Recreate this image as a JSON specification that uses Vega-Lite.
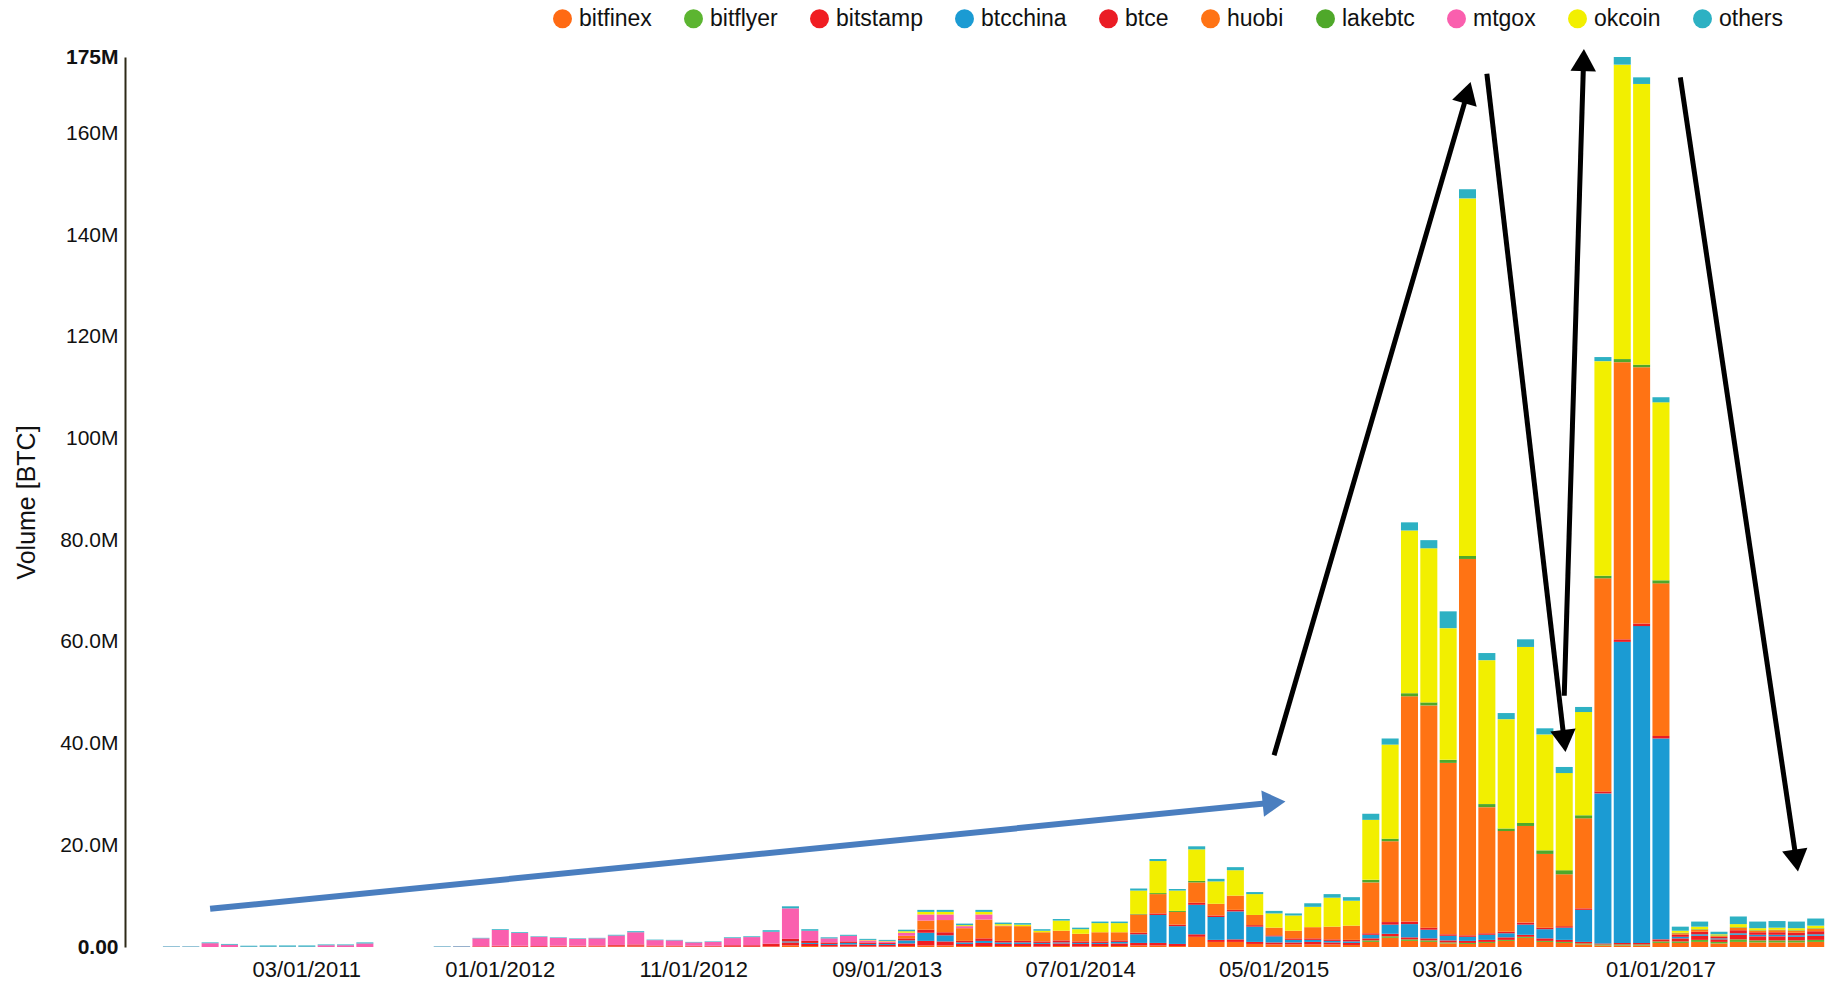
{
  "$schema": "https://vega.github.io/schema/vega-lite/v6.json",
  "width": 1700,
  "height": 890,
  "autosize": {"type": "none"},
  "padding": {"left": 125, "top": 57, "right": 12, "bottom": 42},
  "background": "white",
  "config": {"view": {"stroke": null}, "font": "Liberation Sans"},
  "datasets": {
    "volume": [
      {"month": "2010-08", "mtgox": 0.05, "others": 0.1},
      {"month": "2010-09", "mtgox": 0.05, "others": 0.1},
      {"month": "2010-10", "mtgox": 0.75, "others": 0.15},
      {"month": "2010-11", "mtgox": 0.45, "others": 0.15},
      {"month": "2010-12", "mtgox": 0.05, "others": 0.2},
      {"month": "2011-01", "mtgox": 0.05, "others": 0.25},
      {"month": "2011-02", "mtgox": 0.05, "others": 0.25},
      {"month": "2011-03", "mtgox": 0.05, "others": 0.25},
      {"month": "2011-04", "mtgox": 0.35, "others": 0.15},
      {"month": "2011-05", "mtgox": 0.35, "others": 0.15},
      {"month": "2011-06", "mtgox": 0.7, "others": 0.2},
      {"month": "2011-07", "others": 0},
      {"month": "2011-08", "others": 0},
      {"month": "2011-09", "others": 0},
      {"month": "2011-10", "mtgox": 0.05, "others": 0.1},
      {"month": "2011-11", "mtgox": 0.1, "others": 0.1},
      {"month": "2011-12", "bitstamp": 0.05, "btce": 0.1, "mtgox": 1.55, "others": 0.1},
      {"month": "2012-01", "bitstamp": 0.1, "btce": 0.15, "mtgox": 3.1, "others": 0.15},
      {"month": "2012-02", "bitstamp": 0.1, "btce": 0.15, "mtgox": 2.5, "others": 0.15},
      {"month": "2012-03", "bitstamp": 0.1, "btce": 0.1, "mtgox": 1.8, "others": 0.1},
      {"month": "2012-04", "bitfinex": 0.05, "bitstamp": 0.1, "btce": 0.1, "mtgox": 1.55, "others": 0.1},
      {"month": "2012-05", "bitfinex": 0.05, "bitstamp": 0.1, "btce": 0.1, "mtgox": 1.35, "others": 0.1},
      {"month": "2012-06", "bitfinex": 0.1, "bitstamp": 0.1, "btce": 0.1, "mtgox": 1.4, "others": 0.1},
      {"month": "2012-07", "bitfinex": 0.1, "bitstamp": 0.15, "btce": 0.15, "mtgox": 1.85, "others": 0.15},
      {"month": "2012-08", "bitfinex": 0.1, "bitstamp": 0.2, "btce": 0.2, "mtgox": 2.4, "others": 0.2},
      {"month": "2012-09", "bitfinex": 0.1, "bitstamp": 0.1, "btce": 0.1, "mtgox": 1.05, "others": 0.1},
      {"month": "2012-10", "bitfinex": 0.1, "bitstamp": 0.1, "btce": 0.1, "mtgox": 1.0, "others": 0.1},
      {"month": "2012-11", "bitfinex": 0.05, "bitstamp": 0.1, "btce": 0.1, "mtgox": 0.65, "others": 0.1},
      {"month": "2012-12", "bitfinex": 0.05, "bitstamp": 0.1, "btce": 0.1, "mtgox": 0.75, "others": 0.1},
      {"month": "2013-01", "bitfinex": 0.05, "bitstamp": 0.15, "btce": 0.15, "mtgox": 1.4, "others": 0.15},
      {"month": "2013-02", "bitfinex": 0.05, "bitstamp": 0.15, "btce": 0.15, "mtgox": 1.6, "others": 0.15},
      {"month": "2013-03", "bitfinex": 0.1, "bitstamp": 0.3, "btce": 0.25, "mtgox": 2.35, "others": 0.3},
      {"month": "2013-04", "bitfinex": 0.3, "bitstamp": 0.6, "btcchina": 0.2, "btce": 0.5, "mtgox": 6.0, "others": 0.4},
      {"month": "2013-05", "bitfinex": 0.2, "bitstamp": 0.4, "btcchina": 0.2, "btce": 0.4, "mtgox": 2.0, "others": 0.3},
      {"month": "2013-06", "bitfinex": 0.1, "bitstamp": 0.3, "btcchina": 0.2, "btce": 0.3, "mtgox": 0.8, "others": 0.2},
      {"month": "2013-07", "bitfinex": 0.1, "bitstamp": 0.4, "btcchina": 0.3, "btce": 0.3, "mtgox": 1.1, "others": 0.2},
      {"month": "2013-08", "bitfinex": 0.1, "bitstamp": 0.3, "btcchina": 0.2, "btce": 0.3, "mtgox": 0.4, "okcoin": 0.1, "others": 0.2},
      {"month": "2013-09", "bitfinex": 0.1, "bitstamp": 0.3, "btcchina": 0.2, "btce": 0.2, "mtgox": 0.3, "okcoin": 0.1, "others": 0.2},
      {"month": "2013-10", "bitfinex": 0.2, "bitstamp": 0.5, "btcchina": 0.6, "btce": 0.4, "huobi": 0.5, "mtgox": 0.6, "okcoin": 0.3, "others": 0.3},
      {"month": "2013-11", "bitfinex": 0.3, "bitstamp": 0.9, "btcchina": 1.6, "btce": 0.6, "huobi": 1.8, "mtgox": 1.2, "okcoin": 0.5, "others": 0.4},
      {"month": "2013-12", "bitfinex": 0.3, "bitstamp": 0.8, "btcchina": 1.2, "btce": 0.6, "huobi": 2.4, "mtgox": 1.1, "okcoin": 0.5, "others": 0.4},
      {"month": "2014-01", "bitfinex": 0.2, "bitstamp": 0.4, "btcchina": 0.3, "btce": 0.3, "huobi": 2.5, "mtgox": 0.4, "okcoin": 0.2, "others": 0.3},
      {"month": "2014-02", "bitfinex": 0.2, "bitstamp": 0.6, "btcchina": 0.4, "btce": 0.5, "huobi": 3.7, "mtgox": 1.0, "okcoin": 0.5, "others": 0.4},
      {"month": "2014-03", "bitfinex": 0.2, "bitstamp": 0.4, "btcchina": 0.3, "btce": 0.3, "huobi": 2.9, "mtgox": 0.1, "okcoin": 0.3, "others": 0.3},
      {"month": "2014-04", "bitfinex": 0.2, "bitstamp": 0.4, "btcchina": 0.3, "btce": 0.3, "huobi": 2.9, "okcoin": 0.3, "others": 0.3},
      {"month": "2014-05", "bitfinex": 0.1, "bitstamp": 0.5, "btcchina": 0.2, "btce": 0.3, "huobi": 1.8, "okcoin": 0.3, "others": 0.3},
      {"month": "2014-06", "bitfinex": 0.2, "bitstamp": 0.5, "btcchina": 0.2, "btce": 0.4, "huobi": 1.9, "okcoin": 2.0, "others": 0.3},
      {"month": "2014-07", "bitfinex": 0.1, "bitstamp": 0.5, "btcchina": 0.2, "btce": 0.3, "huobi": 1.5, "okcoin": 0.9, "others": 0.3},
      {"month": "2014-08", "bitfinex": 0.2, "bitstamp": 0.4, "btcchina": 0.2, "btce": 0.3, "huobi": 1.8, "okcoin": 1.8, "others": 0.3},
      {"month": "2014-09", "bitfinex": 0.2, "bitstamp": 0.5, "btcchina": 0.3, "btce": 0.3, "huobi": 1.6, "okcoin": 1.8, "others": 0.3},
      {"month": "2014-10", "bitfinex": 0.3, "bitstamp": 0.5, "btcchina": 1.7, "btce": 0.3, "huobi": 3.6, "lakebtc": 0.1, "okcoin": 4.6, "others": 0.4},
      {"month": "2014-11", "bitfinex": 0.3, "bitstamp": 0.5, "btcchina": 5.5, "btce": 0.3, "huobi": 3.8, "lakebtc": 0.2, "okcoin": 6.3, "others": 0.4},
      {"month": "2014-12", "bitfinex": 0.2, "bitstamp": 0.4, "btcchina": 3.5, "btce": 0.3, "huobi": 2.5, "lakebtc": 0.2, "okcoin": 4.0, "others": 0.3},
      {"month": "2015-01", "bitfinex": 2.0, "bitstamp": 0.5, "btcchina": 5.8, "btce": 0.4, "huobi": 4.0, "lakebtc": 0.3, "okcoin": 6.2, "others": 0.6},
      {"month": "2015-02", "bitfinex": 1.0, "bitstamp": 0.4, "btcchina": 4.5, "btce": 0.3, "huobi": 2.3, "okcoin": 4.4, "others": 0.5},
      {"month": "2015-03", "bitfinex": 1.0, "bitstamp": 0.5, "btcchina": 5.5, "btce": 0.3, "huobi": 2.8, "okcoin": 5.0, "others": 0.6},
      {"month": "2015-04", "bitfinex": 0.6, "bitstamp": 0.4, "btcchina": 3.0, "btce": 0.3, "huobi": 2.0, "okcoin": 4.1, "others": 0.4},
      {"month": "2015-05", "bitfinex": 0.5, "bitstamp": 0.4, "btcchina": 1.2, "btce": 0.2, "huobi": 1.5, "okcoin": 2.8, "others": 0.5},
      {"month": "2015-06", "bitfinex": 0.5, "bitstamp": 0.4, "btcchina": 0.5, "btce": 0.3, "huobi": 1.5, "okcoin": 3.0, "others": 0.4},
      {"month": "2015-07", "bitfinex": 0.5, "bitstamp": 0.5, "btcchina": 0.4, "btce": 0.3, "huobi": 2.2, "okcoin": 4.0, "others": 0.7},
      {"month": "2015-08", "bitfinex": 0.5, "bitstamp": 0.4, "btcchina": 0.3, "btce": 0.3, "huobi": 2.5, "okcoin": 5.7, "others": 0.7},
      {"month": "2015-09", "bitfinex": 0.4, "bitstamp": 0.4, "btcchina": 0.3, "btce": 0.3, "huobi": 2.8, "okcoin": 4.9, "others": 0.7},
      {"month": "2015-10", "bitfinex": 1.0, "bitflyer": 0.3, "bitstamp": 0.4, "btcchina": 0.7, "btce": 0.3, "huobi": 10.0, "lakebtc": 0.5, "okcoin": 11.8, "others": 1.2},
      {"month": "2015-11", "bitfinex": 1.8, "bitflyer": 0.3, "bitstamp": 0.5, "btcchina": 1.8, "btce": 0.5, "huobi": 15.9, "lakebtc": 0.5, "okcoin": 18.5, "others": 1.2},
      {"month": "2015-12", "bitfinex": 1.2, "bitflyer": 0.3, "bitstamp": 0.4, "btcchina": 2.6, "btce": 0.5, "huobi": 44.3, "lakebtc": 0.6, "okcoin": 32.0, "others": 1.6},
      {"month": "2016-01", "bitfinex": 1.0, "bitflyer": 0.3, "bitstamp": 0.4, "btcchina": 1.7, "btce": 0.4, "huobi": 43.7, "lakebtc": 0.6, "okcoin": 30.3, "others": 1.6},
      {"month": "2016-02", "bitfinex": 0.7, "bitflyer": 0.2, "bitstamp": 0.4, "btcchina": 0.9, "btce": 0.3, "huobi": 33.7, "lakebtc": 0.6, "okcoin": 25.9, "others": 3.3},
      {"month": "2016-03", "bitfinex": 0.6, "bitflyer": 0.2, "bitstamp": 0.4, "btcchina": 0.8, "btce": 0.3, "huobi": 74.0, "lakebtc": 0.6, "okcoin": 70.3, "others": 1.8},
      {"month": "2016-04", "bitfinex": 0.8, "bitflyer": 0.2, "bitstamp": 0.4, "btcchina": 1.0, "btce": 0.3, "huobi": 24.8, "lakebtc": 0.6, "okcoin": 28.3, "others": 1.4},
      {"month": "2016-05", "bitfinex": 1.2, "bitflyer": 0.2, "bitstamp": 0.5, "btcchina": 0.8, "btce": 0.3, "huobi": 19.8, "lakebtc": 0.5, "okcoin": 21.5, "others": 1.2},
      {"month": "2016-06", "bitfinex": 1.8, "bitflyer": 0.2, "bitstamp": 0.4, "btcchina": 2.0, "btce": 0.4, "huobi": 19.0, "lakebtc": 0.6, "okcoin": 34.6, "others": 1.5},
      {"month": "2016-07", "bitfinex": 1.0, "bitflyer": 0.2, "bitstamp": 0.5, "btcchina": 1.8, "btce": 0.3, "huobi": 14.5, "lakebtc": 0.7, "okcoin": 22.8, "others": 1.2},
      {"month": "2016-08", "bitfinex": 0.8, "bitflyer": 0.2, "bitstamp": 0.4, "btcchina": 2.4, "btce": 0.3, "huobi": 10.2, "lakebtc": 0.8, "okcoin": 19.1, "others": 1.2},
      {"month": "2016-09", "bitfinex": 0.5, "bitflyer": 0.2, "bitstamp": 0.3, "btcchina": 6.3, "btce": 0.3, "huobi": 17.7, "lakebtc": 0.6, "okcoin": 20.3, "others": 1.0},
      {"month": "2016-10", "bitfinex": 0.3, "bitflyer": 0.2, "bitstamp": 0.2, "btcchina": 29.5, "btce": 0.4, "huobi": 41.9, "lakebtc": 0.5, "okcoin": 42.2, "others": 0.8},
      {"month": "2016-11", "bitfinex": 0.3, "bitflyer": 0.2, "bitstamp": 0.3, "btcchina": 59.2, "btce": 0.5, "huobi": 54.5, "lakebtc": 0.6, "okcoin": 57.9, "others": 1.5},
      {"month": "2016-12", "bitfinex": 0.3, "bitflyer": 0.2, "bitstamp": 0.3, "btcchina": 62.3, "btce": 0.5, "huobi": 50.4, "lakebtc": 0.5, "okcoin": 55.2, "others": 1.3},
      {"month": "2017-01", "bitfinex": 0.8, "bitflyer": 0.3, "bitstamp": 0.4, "btcchina": 39.5, "btce": 0.5, "huobi": 30.0, "lakebtc": 0.6, "okcoin": 35.0, "others": 1.0},
      {"month": "2017-02", "bitfinex": 0.8, "bitflyer": 0.3, "bitstamp": 0.6, "btcchina": 0.3, "btce": 0.4, "huobi": 0.3, "lakebtc": 0.1, "okcoin": 0.4, "others": 0.8},
      {"month": "2017-03", "bitfinex": 1.0, "bitflyer": 0.4, "bitstamp": 0.8, "btcchina": 0.3, "btce": 0.5, "huobi": 0.4, "lakebtc": 0.1, "okcoin": 0.5, "others": 1.0},
      {"month": "2017-04", "bitfinex": 0.7, "bitflyer": 0.3, "bitstamp": 0.5, "btcchina": 0.2, "btce": 0.3, "huobi": 0.2, "lakebtc": 0.1, "okcoin": 0.2, "others": 0.5},
      {"month": "2017-05", "bitfinex": 1.0, "bitflyer": 0.5, "bitstamp": 0.9, "btcchina": 0.3, "btce": 0.6, "huobi": 0.5, "lakebtc": 0.1, "okcoin": 0.6, "others": 1.5},
      {"month": "2017-06", "bitfinex": 0.9, "bitflyer": 0.4, "bitstamp": 0.8, "btcchina": 0.3, "btce": 0.5, "huobi": 0.3, "lakebtc": 0.1, "okcoin": 0.4, "others": 1.3},
      {"month": "2017-07", "bitfinex": 0.9, "bitflyer": 0.4, "bitstamp": 0.8, "btcchina": 0.3, "btce": 0.5, "huobi": 0.4, "lakebtc": 0.1, "okcoin": 0.4, "others": 1.3},
      {"month": "2017-08", "bitfinex": 0.9, "bitflyer": 0.4, "bitstamp": 0.7, "btcchina": 0.3, "btce": 0.5, "huobi": 0.4, "lakebtc": 0.1, "okcoin": 0.4, "others": 1.3},
      {"month": "2017-09", "bitfinex": 1.0, "bitflyer": 0.4, "bitstamp": 0.8, "btcchina": 0.3, "btce": 0.6, "huobi": 0.5, "lakebtc": 0.1, "okcoin": 0.5, "others": 1.4}
    ],
    "arrows": [
      {"arrow": "blue", "m1": "2010-10", "v1": 7.5, "m2": "2015-05", "v2": 28.4},
      {"arrow": "a", "m1": "2015-05", "v1": 37.7, "m2": "2016-03", "v2": 168},
      {"arrow": "b", "m1": "2016-04", "v1": 171.7, "m2": "2016-08", "v2": 40.5},
      {"arrow": "c", "m1": "2016-08", "v1": 49.4, "m2": "2016-09", "v2": 174.4},
      {"arrow": "d", "m1": "2017-02", "v1": 171, "m2": "2017-08", "v2": 17}
    ]
  },
  "layer": [
    {
      "data": {"name": "volume"},
      "transform": [
        {"fold": ["bitfinex", "bitflyer", "bitstamp", "btcchina", "btce", "huobi", "lakebtc", "mtgox", "okcoin", "others"], "as": ["exchange", "volume"]},
        {"filter": "datum.volume != null"}
      ],
      "mark": {"type": "bar"},
      "encoding": {
        "x": {
          "field": "month", "type": "ordinal",
          "scale": {"paddingInner": 0.12, "paddingOuter": 1.17, "align": 0.98},
          "axis": {
            "title": null,
            "values": ["2011-03", "2012-01", "2012-11", "2013-09", "2014-07", "2015-05", "2016-03", "2017-01"],
            "labelExpr": "substring(datum.value, 5, 7) + '/01/' + substring(datum.value, 0, 4)",
            "labelAngle": 0, "ticks": false, "domain": false, "labelPadding": 12,
            "labelFontSize": 22, "labelColor": "#111111", "labelFont": "Liberation Sans"
          }
        },
        "y": {
          "field": "volume", "type": "quantitative", "stack": "zero",
          "scale": {"domain": [0, 175], "nice": false},
          "axis": {
            "title": "Volume [BTC]",
            "values": [0, 20, 40, 60, 80, 100, 120, 140, 160, 175],
            "labelExpr": "datum.value == 0 ? '0.00' : (datum.value >= 100 ? format(datum.value, 'd') + 'M' : format(datum.value, '.1f') + 'M')",
            "labelFontSize": 21, "labelColor": "#111111", "labelFont": "Liberation Sans",
            "labelFontWeight": {"condition": {"test": "datum.value == 0 || datum.value == 175", "value": "bold"}, "value": "normal"},
            "ticks": false, "grid": false, "domainColor": "#2e2a18", "domainWidth": 2,
            "labelPadding": 7, "titleFontSize": 25, "titleFontWeight": "normal", "titleColor": "#111111",
            "titleFont": "Liberation Sans", "titlePadding": 20
          }
        },
        "order": {"field": "exchange", "sort": "ascending"},
        "color": {
          "field": "exchange", "type": "nominal",
          "scale": {
            "domain": ["bitfinex", "bitflyer", "bitstamp", "btcchina", "btce", "huobi", "lakebtc", "mtgox", "okcoin", "others"],
            "range": ["#ff6a13", "#5cb531", "#f01d22", "#1b9bd3", "#ea1c24", "#ff7314", "#4fa82a", "#fa5fae", "#f2ef00", "#2db1c3"]
          },
          "legend": {
            "orient": "none", "legendX": 426, "legendY": -50, "direction": "horizontal", "columns": 10,
            "title": null, "symbolType": "circle", "symbolSize": 360, "symbolStrokeWidth": 0,
            "labelFontSize": 23, "labelFont": "Liberation Sans", "labelColor": "#111111",
            "columnPadding": 30, "labelOffset": 5, "padding": 0
          }
        }
      }
    },
    {
      "data": {"name": "arrows"},
      "transform": [{"filter": "datum.arrow == 'blue'"}],
      "mark": {"type": "rule", "color": "#4a7ebf", "strokeWidth": 6},
      "encoding": {
        "x": {"field": "m1", "type": "ordinal"},
        "x2": {"field": "m2"},
        "y": {"field": "v1", "type": "quantitative"},
        "y2": {"field": "v2"}
      }
    },
    {
      "data": {"name": "arrows"},
      "transform": [{"filter": "datum.arrow != 'blue'"}],
      "mark": {"type": "rule", "color": "#000000", "strokeWidth": 5},
      "encoding": {
        "x": {"field": "m1", "type": "ordinal"},
        "x2": {"field": "m2"},
        "y": {"field": "v1", "type": "quantitative"},
        "y2": {"field": "v2"}
      }
    },
    {
      "data": {"name": "arrows"},
      "transform": [{"filter": "datum.arrow == 'blue'"}],
      "mark": {"type": "point", "shape": "triangle-up", "filled": true, "color": "#4a7ebf", "opacity": 1, "size": 700, "angle": 84.3},
      "encoding": {
        "x": {"field": "m2", "type": "ordinal"},
        "y": {"field": "v2", "type": "quantitative"}
      }
    },
    {
      "data": {"name": "arrows"},
      "transform": [{"filter": "datum.arrow == 'a'"}],
      "mark": {"type": "point", "shape": "triangle-up", "filled": true, "color": "#000000", "opacity": 1, "size": 650, "angle": 16.2},
      "encoding": {
        "x": {"field": "m2", "type": "ordinal"},
        "y": {"field": "v2", "type": "quantitative"}
      }
    },
    {
      "data": {"name": "arrows"},
      "transform": [{"filter": "datum.arrow == 'b'"}],
      "mark": {"type": "point", "shape": "triangle-up", "filled": true, "color": "#000000", "opacity": 1, "size": 650, "angle": 173.4},
      "encoding": {
        "x": {"field": "m2", "type": "ordinal"},
        "y": {"field": "v2", "type": "quantitative"}
      }
    },
    {
      "data": {"name": "arrows"},
      "transform": [{"filter": "datum.arrow == 'c'"}],
      "mark": {"type": "point", "shape": "triangle-up", "filled": true, "color": "#000000", "opacity": 1, "size": 650, "angle": 1.7},
      "encoding": {
        "x": {"field": "m2", "type": "ordinal"},
        "y": {"field": "v2", "type": "quantitative"}
      }
    },
    {
      "data": {"name": "arrows"},
      "transform": [{"filter": "datum.arrow == 'd'"}],
      "mark": {"type": "point", "shape": "triangle-up", "filled": true, "color": "#000000", "opacity": 1, "size": 650, "angle": 171.6},
      "encoding": {
        "x": {"field": "m2", "type": "ordinal"},
        "y": {"field": "v2", "type": "quantitative"}
      }
    }
  ]
}
